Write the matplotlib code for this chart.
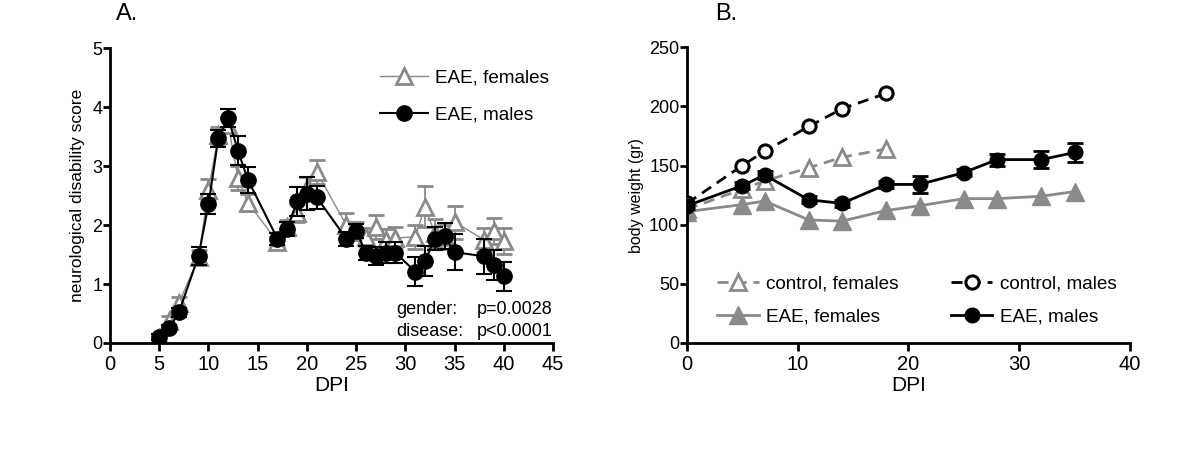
import matplotlib
matplotlib.use("Agg")
import matplotlib.pyplot as plt
import numpy as np

plt.rcParams['font.family'] = ['Liberation Sans', 'DejaVu Sans']

# Panel A data
dpi_a = [5, 6, 7, 9, 10, 11, 12, 13, 14, 17, 18, 19, 20, 21, 24, 25, 26, 27, 28, 29, 31, 32, 33, 34, 35, 38, 39, 40]
males_a = [0.10, 0.25, 0.52, 1.48, 2.35, 3.47, 3.82, 3.26, 2.77, 1.77, 1.94, 2.40, 2.53, 2.47,
           1.77, 1.90, 1.53, 1.48, 1.53, 1.53, 1.21, 1.39, 1.77, 1.81, 1.54, 1.47, 1.32, 1.13]
males_a_err = [0.05, 0.06, 0.08, 0.15, 0.17, 0.15, 0.15, 0.25, 0.22, 0.10, 0.12, 0.25, 0.28, 0.20,
               0.12, 0.12, 0.12, 0.15, 0.18, 0.18, 0.25, 0.25, 0.20, 0.22, 0.30, 0.30, 0.25, 0.25]
females_a = [0.08, 0.38, 0.68, 1.45, 2.60, 3.52, 3.70, 2.80, 2.38, 1.72, 1.97, 2.20, 2.62, 2.90,
             2.00, 1.90, 1.80, 1.97, 1.75, 1.78, 1.80, 2.31, 1.86, 1.80, 2.05, 1.75, 1.90, 1.73]
females_a_err = [0.05, 0.08, 0.10, 0.12, 0.18, 0.15, 0.12, 0.20, 0.15, 0.08, 0.12, 0.15, 0.20, 0.20,
                 0.20, 0.15, 0.15, 0.20, 0.18, 0.18, 0.20, 0.35, 0.25, 0.20, 0.28, 0.20, 0.22, 0.22]

# Panel B data
dpi_ctrl = [0, 5, 7, 11, 14, 18]
ctrl_males = [118, 150, 162, 183, 198, 211]
ctrl_females = [113, 130, 137, 148, 157, 164]
dpi_eae = [0, 5, 7, 11, 14, 18, 21, 25, 28, 32, 35]
eae_males = [116, 133, 142, 121, 118, 134, 134, 144, 155, 155, 161]
eae_males_err = [3, 3, 3, 3, 3, 3, 7, 3, 5, 7, 8]
eae_females = [111, 117, 120, 104, 103, 112, 116, 122, 122, 124, 128]

GRAY = '#8a8a8a'

fig = plt.figure(figsize=(12, 4.71), dpi=100)
axA = fig.add_axes([0.0917, 0.2718, 0.3691, 0.626])
axB = fig.add_axes([0.5725, 0.2718, 0.3691, 0.628])

def style(ax):
    for s in ['top', 'right']:
        ax.spines[s].set_visible(False)
    for s in ['left', 'bottom']:
        ax.spines[s].set_linewidth(2.0)
    ax.tick_params(axis='x', width=2.0, length=6, labelsize=14.5, pad=3)
    ax.tick_params(axis='y', width=2.0, length=5, labelsize=13, pad=0.5)

# Panel A
fa = axA.errorbar(dpi_a, females_a, yerr=females_a_err, color=GRAY, lw=1.0, marker='^', ms=12,
                  mfc='white', mec=GRAY, mew=2, ecolor=GRAY, elinewidth=1.3, capsize=6, capthick=1.3,
                  zorder=2)
ma = axA.errorbar(dpi_a, males_a, yerr=males_a_err, color='black', lw=1.5, marker='o', ms=11,
                  mfc='black', mec='black', ecolor='black', elinewidth=1.5, capsize=6, capthick=1.5,
                  zorder=3)
axA.set_xlim(0, 45)
axA.set_ylim(0, 5)
axA.set_xticks(range(0, 46, 5))
axA.set_yticks(range(0, 6))
style(axA)
axA.set_xlabel('DPI', fontsize=15, labelpad=1)
axA.set_ylabel('neurological disability score', fontsize=12.5, labelpad=5)
axA.legend([fa[0], ma[0]], ['EAE, females', 'EAE, males'], loc='upper right', frameon=False,
           fontsize=13.6, handlelength=2.5, handletextpad=0.4, labelspacing=1.05,
           bbox_to_anchor=(1.03, 0.985))
axA.text(29.1, 0.56, 'gender:', fontsize=13, ha='left', va='center')
axA.text(37.3, 0.56, 'p=0.0028', fontsize=13, ha='left', va='center')
axA.text(29.1, 0.19, 'disease:', fontsize=13, ha='left', va='center')
axA.text(37.3, 0.19, 'p<0.0001', fontsize=13, ha='left', va='center')

# Panel B
cf, = axB.plot(dpi_ctrl, ctrl_females, color=GRAY, lw=2, ls=(0, (4, 2.5)), marker='^', ms=12,
               mfc='white', mec=GRAY, mew=2, zorder=2)
ef, = axB.plot(dpi_eae, eae_females, color=GRAY, lw=2, marker='^', ms=13,
               mfc=GRAY, mec=GRAY, zorder=2)
cm, = axB.plot(dpi_ctrl, ctrl_males, color='black', lw=2, ls=(0, (4, 2.5)), marker='o', ms=9.5,
               mfc='white', mec='black', mew=2.2, zorder=3)
em = axB.errorbar(dpi_eae, eae_males, yerr=eae_males_err, color='black', lw=2, marker='o', ms=10.5,
                  mfc='black', mec='black', ecolor='black', elinewidth=2, capsize=6, capthick=2,
                  zorder=3)
axB.set_xlim(0, 40)
axB.set_ylim(0, 250)
axB.set_xticks(range(0, 41, 10))
axB.set_yticks(range(0, 251, 50))
style(axB)
axB.set_xlabel('DPI', fontsize=15, labelpad=1)
axB.set_ylabel('body weight (gr)', fontsize=11.5, labelpad=4)
axB.legend([cf, ef, cm, em[0]], ['control, females', 'EAE, females', 'control, males', 'EAE, males'],
           loc='lower left', ncol=2, frameon=False, fontsize=13.6, handlelength=2.2,
           handletextpad=0.4, labelspacing=0.85, columnspacing=2.75, bbox_to_anchor=(0.03, 0.0))

fig.text(0.097, 0.97, 'A.', fontsize=17, ha='left', va='center')
fig.text(0.596, 0.97, 'B.', fontsize=17, ha='left', va='center')

fig.savefig('out.png', dpi=100)
